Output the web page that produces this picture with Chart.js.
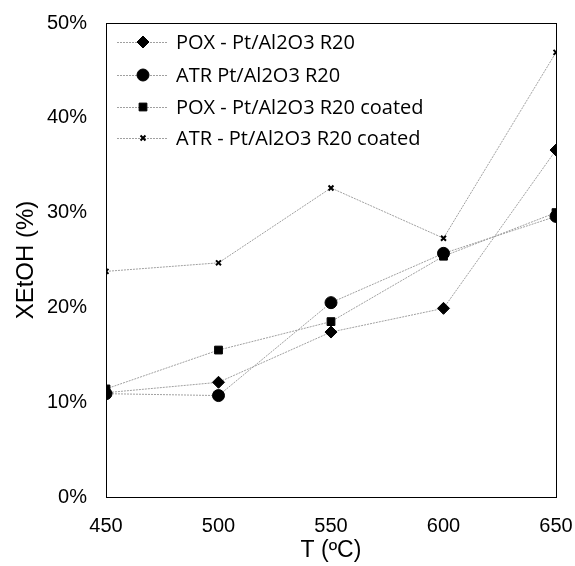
<!DOCTYPE html>
<html>
<head>
<meta charset="utf-8">
<script src="https://cdn.jsdelivr.net/npm/chart.js@4"></script>
<style>
  body { margin: 0; background: #fff; }
  #wrap { width: 575px; height: 566px; }
</style>
</head>
<body>
<div id="wrap"><canvas id="myChart" width="575" height="566"></canvas></div>
<script>
var temps = [450, 500, 550, 600, 650];
var poxPt = [11.0, 12.1, 17.4, 19.9, 36.6];
var atrPt = [10.9, 10.7, 20.5, 25.7, 29.6];
var poxCoated = [11.4, 15.5, 18.5, 25.4, 30.0];
var atrCoated = [23.8, 24.7, 32.6, 27.3, 46.9];
var seriesNames = ['POX - Pt/Al2O3 R20', 'ATR Pt/Al2O3 R20', 'POX - Pt/Al2O3 R20 coated', 'ATR - Pt/Al2O3 R20 coated'];

function pts(vals) {
    return temps.map(function (t, i) { return { x: t, y: vals[i] }; });
}

function series(name, vals, style, r, bw) {
    return {
        label: name,
        data: pts(vals),
        borderColor: '#a0a0a0',
        borderWidth: 1,
        borderDash: [2, 1],
        pointStyle: style,
        pointRadius: r,
        pointBackgroundColor: '#000',
        pointBorderColor: '#000',
        pointBorderWidth: bw,
        tension: 0
    };
}

// frame + legend inside the plot
var framePlugin = {
    id: 'frame',
    afterDraw: function (chart) {
        var c = chart.ctx, a = chart.chartArea;
        c.save();
        c.strokeStyle = '#000';
        c.lineWidth = 1;
        c.strokeRect(a.left + 0.5, a.top + 0.5, a.right - a.left, a.bottom - a.top);
        var rows = [42, 75, 107, 138];
        chart.data.datasets.forEach(function (ds, i) {
            var y = rows[i];
            c.strokeStyle = ds.borderColor;
            c.lineWidth = 1;
            c.setLineDash([2, 1]);
            c.beginPath();
            c.moveTo(117, y + 0.5);
            c.lineTo(168, y + 0.5);
            c.stroke();
            c.setLineDash([]);
            c.fillStyle = '#000';
            c.strokeStyle = '#000';
            c.lineWidth = ds.pointBorderWidth;
            Chart.helpers.drawPoint(c, { pointStyle: ds.pointStyle, radius: ds.pointRadius, borderWidth: ds.pointBorderWidth }, 143, y);
            c.font = '20px "Open Sans"';
            c.textBaseline = 'middle';
            c.fillText(ds.label, 176, y + 1);
        });
        c.restore();
    }
};

var ctx = document.getElementById('myChart').getContext('2d');
var myChart = new Chart(ctx, {
    type: 'line',
    data: {
        datasets: [
            series(seriesNames[0], poxPt, 'rectRot', 6, 1),
            series(seriesNames[1], atrPt, 'circle', 6, 1),
            series(seriesNames[2], poxCoated, 'rect', 5.5, 1),
            series(seriesNames[3], atrCoated, 'crossRot', 3.5, 2)
        ]
    },
    options: {
        responsive: false,
        animation: false,
        layout: { padding: { top: 11, right: 0, left: 0, bottom: 0 } },
        plugins: { legend: { display: false }, tooltip: { enabled: false } },
        scales: {
            x: {
                type: 'linear',
                min: 450, max: 650,
                grid: { display: false },
                border: { display: false },
                ticks: { stepSize: 50, color: '#000', padding: 9, font: { family: 'Liberation Sans', size: 20 } },
                title: { display: true, text: 'T (ºC)', color: '#000', padding: { top: 0, bottom: 2 }, font: { family: 'Liberation Sans', size: 23 } },
                afterFit: function (s) { s.height = 69; s.paddingLeft = 0; s.paddingRight = 19; }
            },
            y: {
                min: 0, max: 50,
                grid: { display: false },
                border: { display: false },
                ticks: {
                    stepSize: 10, color: '#000', padding: 11,
                    font: { family: 'Liberation Sans', size: 20 },
                    callback: function (v) { return v + '%'; }
                },
                title: { display: true, text: 'XEtOH (%)', color: '#000', padding: { top: 12, bottom: 0 }, font: { family: 'Liberation Sans', size: 24 } },
                afterFit: function (s) { s.width = 106; }
            }
        }
    },
    plugins: [framePlugin]
});
</script>
</body>
</html>
